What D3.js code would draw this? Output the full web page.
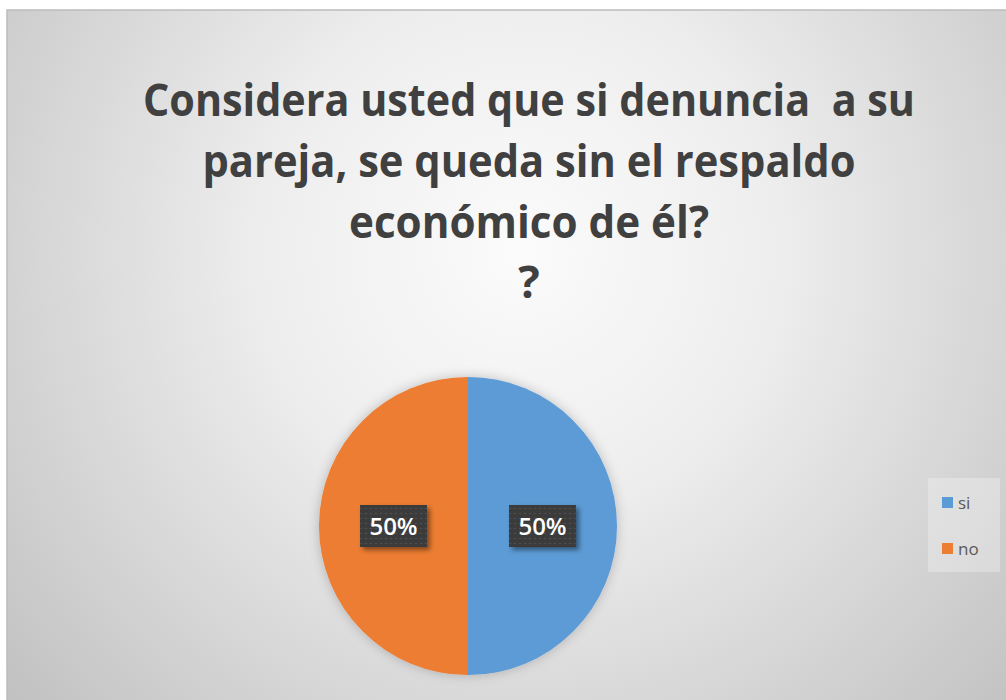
<!DOCTYPE html>
<html>
<head>
<meta charset="utf-8">
<script src="https://cdn.jsdelivr.net/npm/d3@7"></script>
<style>
  html, body { margin: 0; padding: 0; background: #ffffff; }
  svg { display: block; }
</style>
</head>
<body>
<svg id="chart" width="1006" height="700"></svg>
<script>
// ---- data ----
const categories = ["si", "no"];
const values = [50, 50];
const colors = ["#5b9bd5", "#ed7d31"];
const titleLines = [
  "Considera usted que si denuncia  a su",
  "pareja, se queda sin el respaldo",
  "económico de él?",
  "?"
];

const W = 1006, H = 700;
const svg = d3.select("#chart");
const defs = svg.append("defs");

// background gradient
const grad = defs.append("radialGradient")
  .attr("id", "bg").attr("gradientUnits", "userSpaceOnUse")
  .attr("cx", 520).attr("cy", 250).attr("r", 720);
grad.append("stop").attr("offset", "0").attr("stop-color", "#fbfbfb");
grad.append("stop").attr("offset", "0.35").attr("stop-color", "#eeeeee");
grad.append("stop").attr("offset", "1").attr("stop-color", "#bdbdbd");

// dotted pattern for label boxes
const pat = defs.append("pattern").attr("id", "dots")
  .attr("patternUnits", "userSpaceOnUse").attr("width", 5).attr("height", 5);
pat.append("rect").attr("width", 5).attr("height", 5).attr("fill", "#3b3b3b");
pat.append("circle").attr("cx", 2.5).attr("cy", 2.5).attr("r", 0.8).attr("fill", "#5a5a5a");

const sh = defs.append("filter").attr("id", "lblShadow")
  .attr("x", "-30%").attr("y", "-30%").attr("width", "160%").attr("height", "160%");
sh.append("feDropShadow").attr("dx", 3).attr("dy", 3).attr("stdDeviation", 2.5)
  .attr("flood-color", "#000").attr("flood-opacity", 0.45);

const glow = defs.append("filter").attr("id", "pieShadow")
  .attr("x", "-20%").attr("y", "-20%").attr("width", "140%").attr("height", "140%");
glow.append("feDropShadow").attr("dx", 0).attr("dy", 0).attr("stdDeviation", 6)
  .attr("flood-color", "#000").attr("flood-opacity", 0.22);

// chart area
svg.append("rect").attr("x", 7).attr("y", 10).attr("width", W + 10).attr("height", H)
  .attr("fill", "url(#bg)").attr("stroke", "#bcbcbc").attr("stroke-width", 1.5);

// title
const titleX = 529;
const baselines = [116, 177, 238, 298];
const targetWidths = [772, 653, 360, null];
const title = svg.append("g");
titleLines.forEach((t, i) => {
  const tx = title.append("text")
    .attr("x", titleX).attr("y", baselines[i])
    .attr("text-anchor", "middle")
    .style("white-space", "pre")
    .attr("xml:space", "preserve")
    .attr("font-family", "'Open Sans', sans-serif")
    .attr("font-weight", "bold")
    .attr("font-size", 45)
    .attr("fill", "#404040")
    .text(t);
  const tw = targetWidths[i];
  if (tw) {
    const len = tx.node().getComputedTextLength();
    if (Math.abs(len - tw) > 4) {
      tx.attr("textLength", tw).attr("lengthAdjust", "spacingAndGlyphs");
    }
  }
});

// pie
const cx = 468, cy = 526, r = 149;
const pie = d3.pie().sort(null).value(d => d)(values);
const arc = d3.arc().innerRadius(0).outerRadius(r);
const pg = svg.append("g").attr("transform", `translate(${cx},${cy})`);
pg.append("g").attr("filter", "url(#pieShadow)")
  .selectAll("path").data(pie).join("path")
  .attr("d", arc)
  .attr("fill", (d, i) => colors[i])
  .attr("stroke", "none");

// labels
const fmt = d3.format(".0%");
const total = d3.sum(values);
const lbl = pg.selectAll("g.lbl").data(pie).join("g").attr("class", "lbl")
  .attr("transform", d => `translate(${arc.centroid(d)})`);
lbl.append("rect")
  .attr("x", -33.5).attr("y", -21).attr("width", 67).attr("height", 42)
  .attr("fill", "url(#dots)").attr("filter", "url(#lblShadow)");
lbl.append("text")
  .attr("text-anchor", "middle").attr("y", 8.5)
  .attr("font-family", "'Open Sans', sans-serif").attr("font-weight", 600)
  .attr("font-size", 24).attr("fill", "#ffffff")
  .text(d => fmt(d.value / total));

// legend
const lg = svg.append("g");
lg.append("rect").attr("x", 928).attr("y", 478).attr("width", 72).attr("height", 94)
  .attr("fill", "#ffffff").attr("fill-opacity", 0.28);
const items = lg.selectAll("g.item").data(categories).join("g").attr("class", "item")
  .attr("transform", (d, i) => `translate(942, ${497 + i * 46})`);
items.append("rect").attr("width", 11).attr("height", 11).attr("fill", (d, i) => colors[i]);
items.append("text").attr("x", 16).attr("y", 11.5)
  .attr("font-family", "'Open Sans', sans-serif").attr("font-size", 17)
  .attr("fill", "#595959").text(d => d);
</script>
</body>
</html>
